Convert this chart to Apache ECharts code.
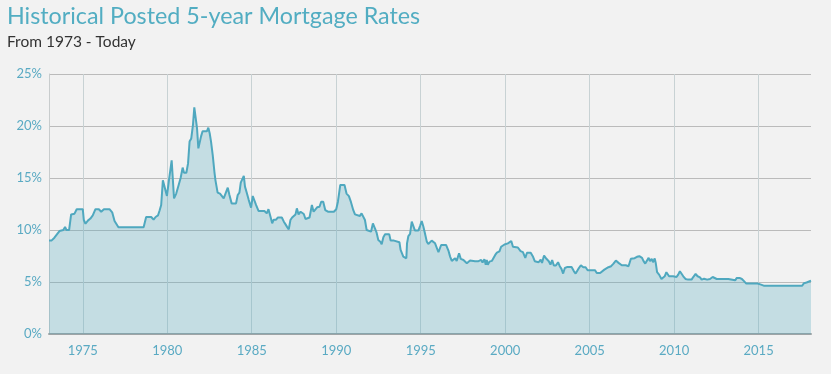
<!DOCTYPE html>
<html>
<head>
<meta charset="utf-8">
<script src="https://cdn.jsdelivr.net/npm/echarts@6/dist/echarts.min.js"></script>
<style>
html,body{margin:0;padding:0;background:#f2f2f2;}
#chart{width:831px;height:374px;}
</style>
</head>
<body>
<div id="chart"></div>
<script>
const titleText = "Historical Posted 5-year Mortgage Rates";
const subtitleText = "From 1973 - Today";
const xTickYears = [1975, 1980, 1985, 1990, 1995, 2000, 2005, 2010, 2015];
const yTicks = [0, 5, 10, 15, 20, 25];
const xMin = 1973.0;
const xMax = 2018.1;

const years = [
1973.00,1973.16,1973.32,1973.48,1973.62,1973.72,1973.85,1973.95,1974.03,1974.19,
1974.31,1974.51,1974.64,1975.00,1975.06,1975.16,1975.30,1975.45,1975.59,1975.75,
1975.95,1976.09,1976.25,1976.58,1976.74,1976.88,1976.98,1977.11,1978.60,1978.75,
1979.05,1979.19,1979.31,1979.45,1979.55,1979.64,1979.74,1979.84,1979.98,1980.10,
1980.26,1980.40,1980.53,1980.67,1980.79,1980.91,1980.99,1981.13,1981.23,1981.32,
1981.42,1981.52,1981.60,1981.70,1981.76,1981.84,1981.92,1982.00,1982.09,1982.35,
1982.43,1982.51,1982.59,1982.69,1982.79,1982.85,1982.91,1982.98,1983.12,1983.22,
1983.34,1983.44,1983.58,1983.68,1983.81,1984.07,1984.17,1984.27,1984.35,1984.43,
1984.53,1984.60,1984.70,1984.82,1984.96,1985.06,1985.16,1985.26,1985.40,1985.75,
1985.89,1985.99,1986.11,1986.21,1986.30,1986.44,1986.54,1986.78,1986.90,1987.00,
1987.09,1987.19,1987.29,1987.39,1987.49,1987.59,1987.67,1987.77,1987.89,1987.98,
1988.08,1988.18,1988.28,1988.42,1988.56,1988.66,1988.75,1988.87,1989.01,1989.11,
1989.23,1989.35,1989.51,1989.86,1990.00,1990.10,1990.24,1990.49,1990.61,1990.75,
1990.87,1991.01,1991.11,1991.21,1991.40,1991.50,1991.60,1991.70,1991.80,1991.90,
1992.06,1992.17,1992.29,1992.39,1992.49,1992.61,1992.69,1992.79,1992.89,1993.14,
1993.22,1993.42,1993.52,1993.74,1993.81,1993.91,1993.97,1994.07,1994.15,1994.19,
1994.27,1994.37,1994.47,1994.55,1994.66,1994.86,1994.96,1995.06,1995.16,1995.26,
1995.36,1995.45,1995.55,1995.65,1995.75,1995.85,1995.95,1996.05,1996.13,1996.21,
1996.50,1996.64,1996.74,1996.84,1996.94,1997.04,1997.13,1997.27,1997.37,1997.53,
1997.63,1997.73,1997.83,1997.92,1998.02,1998.22,1998.42,1998.58,1998.66,1998.77,
1998.85,1998.91,1998.97,1999.07,1999.21,1999.31,1999.41,1999.51,1999.66,1999.76,
1999.96,2000.06,2000.16,2000.26,2000.36,2000.46,2000.75,2000.91,2001.05,2001.19,
2001.29,2001.51,2001.65,2001.75,2001.85,2001.98,2002.10,2002.18,2002.30,2002.44,
2002.58,2002.68,2002.78,2002.88,2003.00,2003.13,2003.23,2003.33,2003.43,2003.53,
2003.69,2003.93,2004.07,2004.17,2004.33,2004.48,2004.62,2004.76,2004.88,2005.32,
2005.42,2005.62,2005.71,2005.87,2006.11,2006.27,2006.41,2006.55,2006.71,2006.90,
2007.00,2007.14,2007.30,2007.44,2007.66,2007.80,2007.94,2008.10,2008.19,2008.29,
2008.39,2008.49,2008.57,2008.67,2008.75,2008.85,2008.91,2008.99,2009.11,2009.25,
2009.35,2009.44,2009.54,2009.64,2009.70,2009.80,2009.94,2010.04,2010.14,2010.24,
2010.34,2010.44,2010.54,2010.67,2010.83,2011.03,2011.13,2011.27,2011.39,2011.53,
2011.63,2011.77,2011.88,2011.96,2012.12,2012.18,2012.28,2012.36,2012.52,2013.21,
2013.27,2013.61,2013.71,2013.87,2014.01,2014.15,2014.27,2014.94,2015.14,2015.30,
2016.49,2016.59,2016.73,2017.58,2017.68,2017.84,2017.94,2018.10
];

const rates = [
9.00,9.00,9.26,9.60,9.90,10.03,10.00,10.30,10.00,10.00,
11.50,11.57,12.00,12.00,10.96,10.60,10.90,11.10,11.40,12.00,
12.00,11.76,12.00,12.00,11.70,10.87,10.74,10.26,10.26,11.25,
11.25,11.00,11.25,11.40,11.90,12.40,14.78,14.70,13.27,14.80,
16.70,13.04,13.50,14.30,15.00,16.00,15.50,15.50,16.40,18.50,
18.80,20.10,21.80,21.70,19.80,17.85,17.85,19.00,19.50,19.50,
19.84,19.30,18.50,17.20,15.60,14.80,14.70,13.60,13.50,13.37,
13.04,13.04,14.07,13.37,12.56,12.56,13.37,13.60,14.55,14.55,
15.20,14.17,13.60,12.90,12.15,13.27,13.27,12.40,11.83,11.83,
11.60,12.00,11.28,10.64,10.99,10.99,11.20,11.20,10.80,10.54,
10.30,10.06,10.96,11.20,11.20,11.50,12.08,11.50,11.76,11.76,
11.54,11.06,11.20,11.20,12.40,11.76,11.92,12.18,12.24,12.72,
12.72,11.92,11.76,11.76,12.00,12.72,14.33,14.33,13.50,13.26,
12.70,11.90,11.50,11.34,11.34,11.60,11.50,10.96,10.00,9.84,
9.84,10.64,10.16,9.74,9.04,8.88,8.63,9.30,9.58,9.58,
8.98,8.98,8.82,8.82,8.08,7.92,7.44,7.28,7.28,8.72,
9.42,9.62,10.80,10.80,9.94,9.94,10.38,10.86,10.32,9.62,
8.88,8.66,8.50,8.98,8.98,8.72,8.56,7.86,7.86,8.56,
8.56,8.02,7.44,7.03,7.03,7.28,7.03,7.76,7.22,7.12,
6.96,6.80,6.74,7.06,6.93,7.00,7.00,7.12,6.87,7.19,
6.65,7.12,6.65,6.96,7.03,7.12,7.60,7.82,7.94,8.39,
8.61,8.52,8.71,8.52,8.94,8.39,8.32,7.97,7.87,7.32,
7.81,7.81,7.42,7.00,6.84,6.90,7.16,6.84,7.55,7.23,
7.00,6.68,7.10,6.58,6.58,6.90,6.52,6.26,5.81,6.35,
6.45,6.45,6.03,5.81,6.26,6.61,6.42,6.42,6.13,6.13,
5.87,5.87,6.03,6.19,6.42,6.52,6.77,7.06,6.84,6.61,
6.52,6.61,6.52,7.23,7.29,7.42,7.48,7.32,7.00,6.77,
6.84,7.32,7.00,7.23,6.90,7.26,6.84,5.94,5.71,5.29,
5.29,5.55,5.94,5.87,5.55,5.61,5.55,5.55,5.48,5.71,
6.03,5.94,5.55,5.29,5.23,5.23,5.48,5.77,5.55,5.45,
5.23,5.32,5.29,5.23,5.29,5.23,5.48,5.32,5.29,5.29,
5.16,5.16,5.39,5.39,5.29,5.06,4.85,4.85,4.75,4.65,
4.65,4.78,4.65,4.65,4.88,4.95,4.95,5.14
];

const seriesData = years.map((y, i) => [y, rates[i]]);

const chart = echarts.init(document.getElementById('chart'), null, {renderer: 'canvas'});
const teal = '#4fa8bf';
const labelColor = '#5aaac3';
const fontFam = 'Lato, "Open Sans", sans-serif';

chart.setOption({
  backgroundColor: '#f2f2f2',
  animation: false,
  title: {
    text: titleText,
    subtext: subtitleText,
    left: 7,
    top: 5,
    itemGap: 6,
    padding: [0, 0, 0, 0],
    textStyle: {color: '#52adc2', fontSize: 23.3, fontWeight: 'normal', fontFamily: fontFam},
    subtextStyle: {color: '#333333', fontSize: 15.5, fontFamily: fontFam}
  },
  grid: {left: 49, right: 20, top: 74, bottom: 40, containLabel: false},
  xAxis: {
    type: 'value',
    min: xMin,
    max: xMax,
    axisLine: {show: true, lineStyle: {color: '#9ea4a6', width: 2}},
    axisTick: {show: false, customValues: xTickYears},
    axisLabel: {
      customValues: xTickYears,
      color: labelColor,
      fontSize: 13,
      fontFamily: fontFam,
      margin: 10,
      formatter: v => String(Math.round(v))
    },
    splitLine: {show: true, lineStyle: {color: '#c8d2d4', width: 1}}
  },
  yAxis: {
    type: 'value',
    min: yTicks[0],
    max: yTicks[yTicks.length - 1],
    interval: 5,
    axisLine: {show: true, lineStyle: {color: '#c8cccd', width: 1}},
    axisTick: {show: false},
    axisLabel: {color: labelColor, fontSize: 13, fontFamily: fontFam, margin: 7, formatter: '{value}%'},
    splitLine: {show: true, lineStyle: {color: '#bbbbbb', width: 1}}
  },
  series: [{
    type: 'line',
    data: seriesData,
    showSymbol: false,
    smooth: false,
    lineStyle: {color: teal, width: 2},
    itemStyle: {color: teal},
    areaStyle: {color: teal, opacity: 0.28},
    z: 2
  }]
});
</script>
</body>
</html>
